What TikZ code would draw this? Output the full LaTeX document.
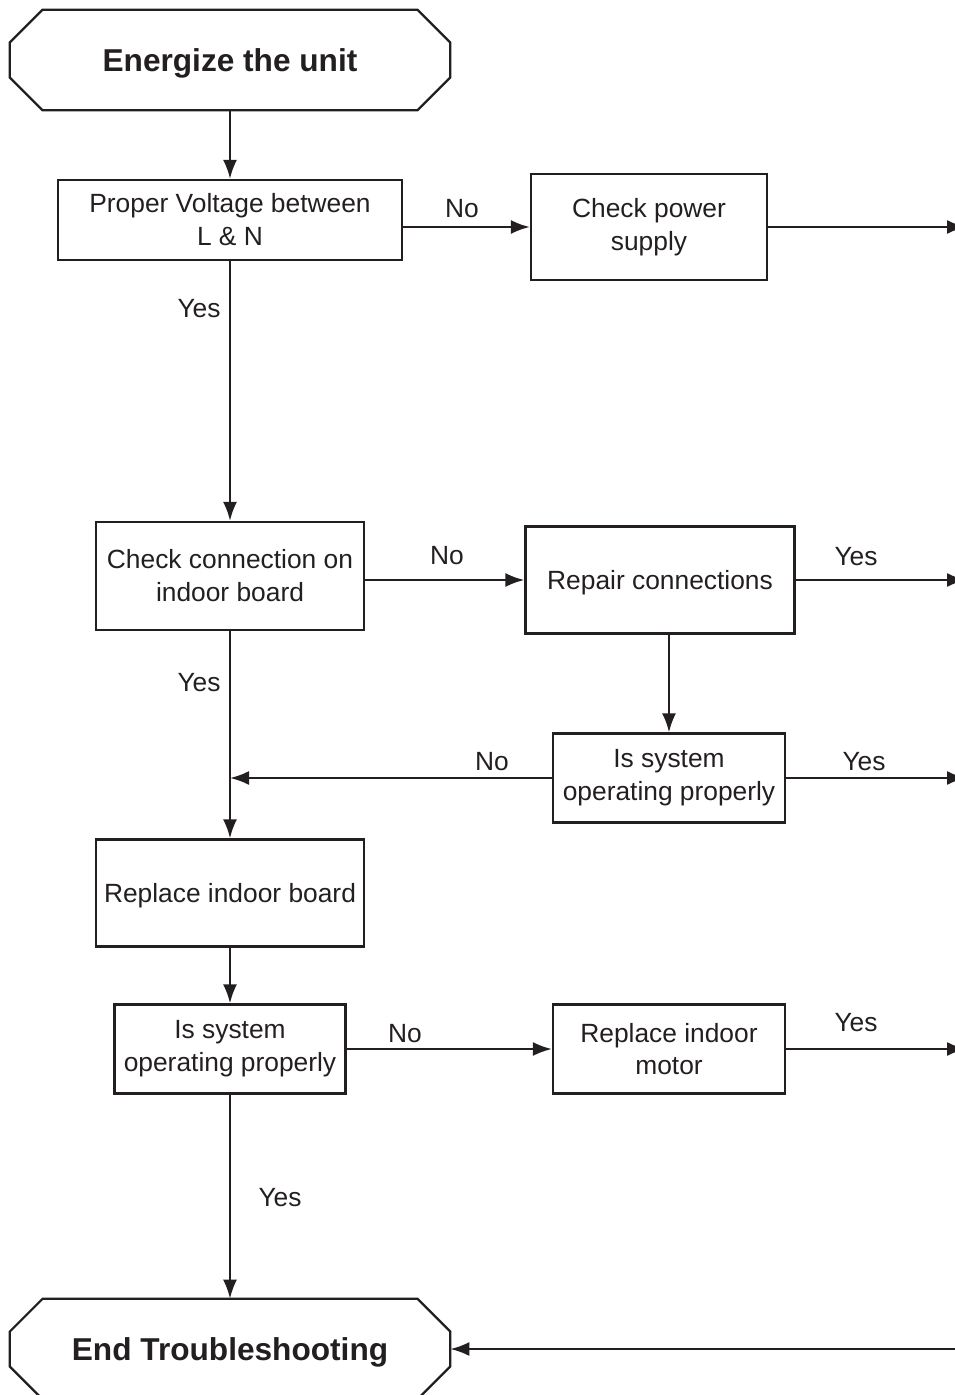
\documentclass[tikz,border=0pt]{standalone}
\usepackage{fontspec}
\setmainfont{Liberation Sans}
\usetikzlibrary{arrows.meta,positioning,calc}
\definecolor{InkGray}{RGB}{35,31,32}
\tikzset{
  terminal/.style={minimum width=8.8cm,minimum height=2cm,inner sep=0pt,
    text depth=0pt,text=InkGray,font=\fontsize{18}{22}\selectfont\bfseries},
  outline/.style={draw=InkGray,line width=1.3pt,line join=miter},
  stepbox/.style={draw=InkGray,line width=1.3pt,inner sep=2pt,align=center,
    text=InkGray,font=\fontsize{15}{18.7}\selectfont},
  lbl/.style={text=InkGray,font=\fontsize{15}{18.7}\selectfont,inner sep=0pt},
  arrow/.style={-{Latex[length=0.38cm,width=0.28cm]},line width=1.3pt,InkGray}
}
\begin{document}
\begin{tikzpicture}[x=0.02cm,y=-0.02cm]
  \useasboundingbox (0,0) rectangle (955,1395);
  % main column
  \node[terminal] (start) at (230,60) {Energize the unit};
  \node[stepbox,minimum width=6.88cm,minimum height=1.6cm] (volt) at (230,220)
    {Proper Voltage between\\L \& N};
  \node[stepbox,minimum width=5.36cm,minimum height=2.16cm] (conn) at (230,576)
    {Check connection on\\indoor board};
  \node[stepbox,minimum width=5.36cm,minimum height=2.14cm,text depth=0pt] (board)
    at (230,893) {Replace indoor board};
  \node[stepbox,minimum width=4.62cm,minimum height=1.78cm] (test2) at (230,1049)
    {Is system\\operating properly};
  \node[terminal] (stop) at (230,1349) {End Troubleshooting};
  % right column
  \node[stepbox,minimum width=4.72cm,minimum height=2.12cm] (power) at (649,227)
    {Check power\\supply};
  \node[stepbox,minimum width=5.38cm,minimum height=2.14cm,text depth=0pt] (repair)
    at (660,580) {Repair connections};
  \node[stepbox,minimum width=4.64cm,minimum height=1.78cm] (test1) at (669,778)
    {Is system\\operating properly};
  \node[stepbox,minimum width=4.64cm,minimum height=1.78cm] (motor) at (669,1049)
    {Replace indoor\\motor};
  % octagon outlines of the two terminals
  \foreach \t in {start,stop}
    \draw[outline] ($(\t.north west)+(33,0)$) -- ($(\t.north east)+(-33,0)$)
      -- ($(\t.north east)+(0,33)$) -- ($(\t.south east)+(0,-33)$)
      -- ($(\t.south east)+(-33,0)$) -- ($(\t.south west)+(33,0)$)
      -- ($(\t.south west)+(0,-33)$) -- ($(\t.north west)+(0,33)$) -- cycle;
  % free ends at the right border
  \coordinate (out1) at (966,227);
  \coordinate (out2) at (966,580);
  \coordinate (out3) at (966,778);
  \coordinate (out4) at (966,1049);
  \coordinate (back) at (962,1349);

  \draw[arrow] (start) -- (volt);
  \draw[arrow] (volt.east |- power.west) -- (power.west);
  \draw[arrow] (power.east) -- (out1);
  \draw[arrow] (volt) -- (conn);
  \draw[arrow] (conn.east |- repair.west) -- (repair.west);
  \draw[arrow] (repair.east) -- (out2);
  \draw[arrow] (repair.south -| test1.north) -- (test1.north);
  \draw[arrow] (test1.west) -- (test1.west -| conn.south);
  \draw[arrow] (test1.east) -- (out3);
  \draw[arrow] (conn) -- (board);
  \draw[arrow] (board) -- (test2);
  \draw[arrow] (test2.east) -- (test2.east -| motor.west);
  \draw[arrow] (motor.east) -- (out4);
  \draw[arrow] (test2) -- (stop);
  \draw[arrow] (back) -- (stop.east);

  \node[lbl] (no1) at (462,209) {No};
  \node[lbl] (yes1) at (199,309) {Yes};
  \node[lbl] (no2) at (447,556) {No};
  \node[lbl] (yes2) at (856,557) {Yes};
  \node[lbl] (yes3) at (199,683) {Yes};
  \node[lbl] (no3) at (492,762) {No};
  \node[lbl] (yes4) at (864,762) {Yes};
  \node[lbl] (no4) at (405,1034) {No};
  \node[lbl] (yes5) at (856,1023) {Yes};
  \node[lbl] (yes6) at (280,1198) {Yes};
\end{tikzpicture}
\end{document}
